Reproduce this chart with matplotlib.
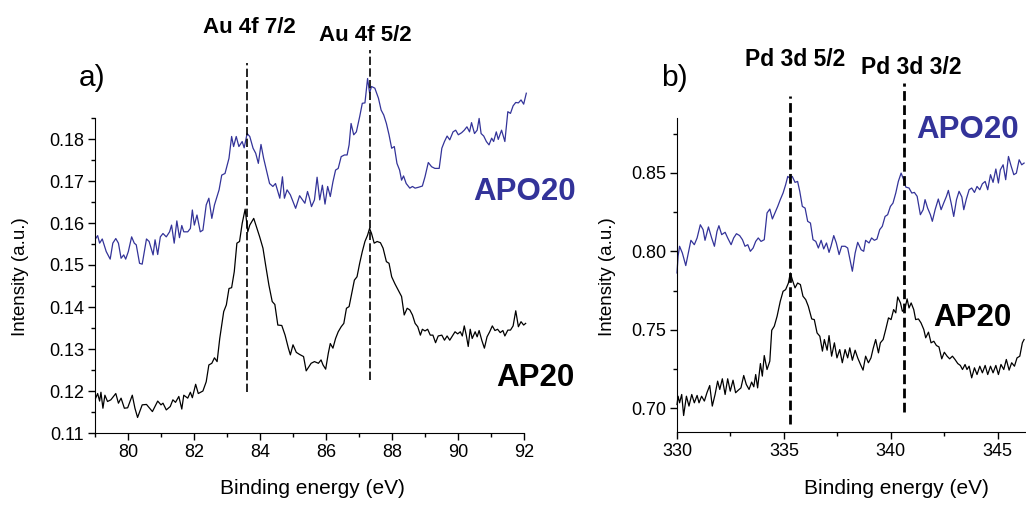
import numpy as np
import matplotlib
matplotlib.use("Agg")
import matplotlib.pyplot as plt
from matplotlib.ticker import MultipleLocator

plt.rcParams['font.family'] = ['Liberation Sans', 'DejaVu Sans']

BLUE = '#333399'

# Au 4f spectra: (binding energy eV, intensity a.u.)
au_apo20 = np.array([
    (79.02, 0.1563), (79.08, 0.1570), (79.14, 0.1552), (79.22, 0.1562), (79.34, 0.1532),
    (79.46, 0.1514), (79.54, 0.1552), (79.63, 0.1563), (79.71, 0.1552), (79.79, 0.1516),
    (79.87, 0.1524), (79.93, 0.1514), (80.01, 0.1532), (80.11, 0.1567), (80.19, 0.1552),
    (80.25, 0.1548), (80.35, 0.1504), (80.43, 0.1502), (80.56, 0.1562), (80.64, 0.1556),
    (80.76, 0.1524), (80.82, 0.1560), (80.90, 0.1525), (80.98, 0.1567), (81.06, 0.1575),
    (81.16, 0.1567), (81.26, 0.1579), (81.32, 0.1595), (81.40, 0.1552), (81.48, 0.1605),
    (81.56, 0.1565), (81.63, 0.1594), (81.69, 0.1579), (81.81, 0.1579), (81.89, 0.1587),
    (81.95, 0.1631), (82.01, 0.1595), (82.09, 0.1619), (82.19, 0.1579), (82.27, 0.1583),
    (82.37, 0.1643), (82.45, 0.1659), (82.54, 0.1611), (82.62, 0.1643), (82.76, 0.1679),
    (82.84, 0.1714), (82.94, 0.1718), (83.06, 0.1754), (83.14, 0.1806), (83.20, 0.1782),
    (83.28, 0.1806), (83.36, 0.1782), (83.46, 0.1794), (83.52, 0.1779), (83.61, 0.1813),
    (83.69, 0.1806), (83.79, 0.1778), (83.87, 0.1766), (83.95, 0.1742), (84.03, 0.1787),
    (84.11, 0.1754), (84.29, 0.1694), (84.39, 0.1687), (84.47, 0.1694), (84.60, 0.1659),
    (84.68, 0.1710), (84.74, 0.1659), (84.82, 0.1679), (84.92, 0.1667), (85.08, 0.1635),
    (85.20, 0.1665), (85.36, 0.1647), (85.44, 0.1675), (85.50, 0.1659), (85.56, 0.1639),
    (85.65, 0.1655), (85.73, 0.1709), (85.81, 0.1655), (85.89, 0.1690), (85.97, 0.1645),
    (86.05, 0.1687), (86.13, 0.1663), (86.21, 0.1698), (86.29, 0.1726), (86.37, 0.1730),
    (86.46, 0.1758), (86.56, 0.1762), (86.64, 0.1762), (86.70, 0.1786), (86.76, 0.1837),
    (86.84, 0.1810), (86.92, 0.1817), (87.02, 0.1853), (87.10, 0.1885), (87.18, 0.1886),
    (87.26, 0.1944), (87.32, 0.1910), (87.38, 0.1925), (87.48, 0.1921), (87.59, 0.1897),
    (87.67, 0.1869), (87.75, 0.1857), (87.83, 0.1837), (87.91, 0.1810), (87.99, 0.1778),
    (88.07, 0.1782), (88.15, 0.1742), (88.23, 0.1726), (88.29, 0.1702), (88.35, 0.1712),
    (88.43, 0.1694), (88.54, 0.1683), (88.62, 0.1687), (88.70, 0.1683), (88.80, 0.1685),
    (88.92, 0.1688), (89.00, 0.1710), (89.10, 0.1744), (89.20, 0.1734), (89.30, 0.1730),
    (89.43, 0.1730), (89.51, 0.1778), (89.59, 0.1794), (89.67, 0.1807), (89.75, 0.1798),
    (89.85, 0.1817), (89.93, 0.1821), (90.01, 0.1810), (90.11, 0.1815), (90.19, 0.1821),
    (90.27, 0.1829), (90.35, 0.1817), (90.41, 0.1839), (90.50, 0.1813), (90.58, 0.1821),
    (90.64, 0.1849), (90.70, 0.1813), (90.78, 0.1807), (90.86, 0.1794), (90.94, 0.1786),
    (91.02, 0.1802), (91.08, 0.1794), (91.16, 0.1817), (91.22, 0.1799), (91.32, 0.1821),
    (91.42, 0.1794), (91.51, 0.1865), (91.59, 0.1861), (91.67, 0.1879), (91.75, 0.1887),
    (91.83, 0.1886), (91.91, 0.1893), (91.99, 0.1883), (92.07, 0.1909),
])

au_ap20 = np.array([
    (79.02, 0.1183), (79.08, 0.1194), (79.14, 0.1176), (79.18, 0.1197), (79.24, 0.1159),
    (79.30, 0.1190), (79.38, 0.1175), (79.48, 0.1179), (79.63, 0.1194), (79.71, 0.1171),
    (79.79, 0.1183), (79.89, 0.1159), (79.99, 0.1160), (80.13, 0.1190), (80.21, 0.1159),
    (80.29, 0.1137), (80.43, 0.1167), (80.56, 0.1168), (80.74, 0.1151), (80.90, 0.1176),
    (81.00, 0.1167), (81.06, 0.1171), (81.16, 0.1155), (81.28, 0.1163), (81.36, 0.1179),
    (81.44, 0.1173), (81.54, 0.1187), (81.63, 0.1157), (81.69, 0.1190), (81.81, 0.1183),
    (81.89, 0.1197), (81.95, 0.1184), (82.05, 0.1216), (82.13, 0.1194), (82.27, 0.1200),
    (82.37, 0.1222), (82.45, 0.1262), (82.54, 0.1266), (82.62, 0.1279), (82.70, 0.1270),
    (82.78, 0.1325), (82.90, 0.1389), (82.98, 0.1405), (83.06, 0.1444), (83.14, 0.1446),
    (83.22, 0.1484), (83.30, 0.1552), (83.38, 0.1556), (83.46, 0.1599), (83.55, 0.1633),
    (83.63, 0.1579), (83.69, 0.1595), (83.81, 0.1611), (83.91, 0.1587), (83.99, 0.1567),
    (84.09, 0.1540), (84.17, 0.1500), (84.27, 0.1452), (84.37, 0.1413), (84.45, 0.1406),
    (84.54, 0.1357), (84.66, 0.1356), (84.76, 0.1333), (84.86, 0.1302), (84.92, 0.1286),
    (85.00, 0.1310), (85.10, 0.1292), (85.20, 0.1287), (85.32, 0.1282), (85.40, 0.1248),
    (85.55, 0.1266), (85.65, 0.1270), (85.77, 0.1266), (85.85, 0.1274), (85.91, 0.1262),
    (85.99, 0.1252), (86.07, 0.1290), (86.13, 0.1313), (86.21, 0.1302), (86.29, 0.1325),
    (86.37, 0.1341), (86.46, 0.1353), (86.54, 0.1361), (86.62, 0.1397), (86.70, 0.1401),
    (86.78, 0.1433), (86.86, 0.1464), (86.94, 0.1472), (87.02, 0.1504), (87.10, 0.1532),
    (87.18, 0.1556), (87.26, 0.1571), (87.32, 0.1587), (87.38, 0.1575), (87.46, 0.1552),
    (87.55, 0.1556), (87.65, 0.1553), (87.73, 0.1540), (87.83, 0.1508), (87.91, 0.1504),
    (87.99, 0.1472), (88.09, 0.1455), (88.19, 0.1440), (88.29, 0.1425), (88.37, 0.1381),
    (88.46, 0.1397), (88.54, 0.1393), (88.62, 0.1381), (88.70, 0.1361), (88.78, 0.1353),
    (88.86, 0.1333), (88.92, 0.1347), (89.00, 0.1343), (89.08, 0.1347), (89.16, 0.1333),
    (89.24, 0.1333), (89.32, 0.1315), (89.40, 0.1331), (89.51, 0.1333), (89.59, 0.1321),
    (89.67, 0.1331), (89.75, 0.1321), (89.83, 0.1331), (89.91, 0.1341), (89.99, 0.1336),
    (90.07, 0.1341), (90.13, 0.1331), (90.19, 0.1355), (90.25, 0.1333), (90.31, 0.1306),
    (90.37, 0.1347), (90.43, 0.1325), (90.52, 0.1341), (90.58, 0.1329), (90.64, 0.1344),
    (90.72, 0.1321), (90.80, 0.1302), (90.88, 0.1329), (90.96, 0.1341), (91.04, 0.1355),
    (91.12, 0.1344), (91.20, 0.1347), (91.28, 0.1339), (91.36, 0.1344), (91.42, 0.1331),
    (91.51, 0.1345), (91.59, 0.1345), (91.67, 0.1355), (91.75, 0.1391), (91.83, 0.1353),
    (91.91, 0.1365), (91.99, 0.1357), (92.05, 0.1361),
])

# Pd 3d spectra
pd_apo20 = np.array([
    (330.00, 0.7863), (330.05, 0.7969), (330.12, 0.8033), (330.25, 0.7990), (330.41, 0.7910),
    (330.53, 0.7990), (330.65, 0.8071), (330.81, 0.8043), (330.94, 0.8086), (331.09, 0.8170),
    (331.22, 0.8139), (331.31, 0.8071), (331.47, 0.8156), (331.62, 0.8086), (331.75, 0.8033),
    (331.87, 0.8128), (331.96, 0.8164), (332.09, 0.8107), (332.25, 0.8122), (332.37, 0.8086),
    (332.53, 0.8043), (332.65, 0.8086), (332.78, 0.8113), (332.93, 0.8101), (333.06, 0.8075),
    (333.18, 0.8033), (333.31, 0.8043), (333.43, 0.8001), (333.56, 0.8022), (333.68, 0.8064),
    (333.80, 0.8086), (333.93, 0.8064), (334.08, 0.8075), (334.21, 0.8245), (334.34, 0.8270),
    (334.46, 0.8207), (334.58, 0.8245), (334.71, 0.8287), (334.83, 0.8330), (334.96, 0.8372),
    (335.08, 0.8425), (335.18, 0.8478), (335.27, 0.8467), (335.39, 0.8478), (335.52, 0.8440),
    (335.64, 0.8446), (335.74, 0.8383), (335.86, 0.8287), (335.99, 0.8276), (336.11, 0.8192),
    (336.24, 0.8181), (336.36, 0.8075), (336.49, 0.8064), (336.61, 0.8022), (336.74, 0.8071),
    (336.86, 0.8016), (336.99, 0.8054), (337.11, 0.7994), (337.20, 0.8033), (337.33, 0.8101),
    (337.45, 0.8054), (337.58, 0.7980), (337.70, 0.8033), (337.86, 0.8033), (337.98, 0.8022),
    (338.20, 0.7874), (338.33, 0.7990), (338.45, 0.8058), (338.61, 0.8011), (338.73, 0.8001),
    (338.82, 0.8071), (338.98, 0.8054), (339.10, 0.8086), (339.23, 0.8071), (339.35, 0.8079),
    (339.48, 0.8139), (339.60, 0.8160), (339.73, 0.8223), (339.85, 0.8234), (339.98, 0.8287),
    (340.10, 0.8308), (340.23, 0.8372), (340.35, 0.8446), (340.48, 0.8499), (340.60, 0.8457),
    (340.70, 0.8410), (340.85, 0.8404), (340.98, 0.8372), (341.10, 0.8376), (341.23, 0.8351),
    (341.38, 0.8234), (341.51, 0.8266), (341.60, 0.8330), (341.72, 0.8276), (341.85, 0.8234),
    (341.94, 0.8192), (342.07, 0.8266), (342.22, 0.8334), (342.35, 0.8266), (342.47, 0.8308),
    (342.60, 0.8351), (342.69, 0.8389), (342.82, 0.8308), (342.94, 0.8223), (343.07, 0.8330),
    (343.19, 0.8383), (343.32, 0.8347), (343.41, 0.8266), (343.53, 0.8334), (343.66, 0.8393),
    (343.78, 0.8404), (343.91, 0.8376), (344.03, 0.8414), (344.16, 0.8393), (344.28, 0.8431),
    (344.41, 0.8446), (344.53, 0.8393), (344.66, 0.8489), (344.78, 0.8440), (344.91, 0.8525),
    (345.03, 0.8436), (345.12, 0.8520), (345.25, 0.8552), (345.37, 0.8457), (345.50, 0.8605),
    (345.62, 0.8546), (345.75, 0.8489), (345.87, 0.8499), (346.00, 0.8584), (346.12, 0.8552),
    (346.23, 0.8563),
])

pd_ap20 = np.array([
    (330.00, 0.7025), (330.05, 0.7078), (330.12, 0.7036), (330.22, 0.7089), (330.31, 0.6955),
    (330.44, 0.7078), (330.56, 0.7015), (330.69, 0.7089), (330.81, 0.7036), (330.94, 0.7083),
    (331.03, 0.7036), (331.15, 0.7078), (331.28, 0.7047), (331.40, 0.7100), (331.53, 0.7146),
    (331.65, 0.7015), (331.78, 0.7089), (331.90, 0.7174), (332.00, 0.7121), (332.12, 0.7189),
    (332.25, 0.7089), (332.37, 0.7189), (332.49, 0.7110), (332.62, 0.7180), (332.74, 0.7100),
    (332.87, 0.7117), (332.99, 0.7131), (333.12, 0.7210), (333.24, 0.7153), (333.37, 0.7121),
    (333.49, 0.7168), (333.59, 0.7138), (333.68, 0.7216), (333.77, 0.7131), (333.90, 0.7286),
    (333.99, 0.7206), (334.08, 0.7337), (334.21, 0.7248), (334.34, 0.7301), (334.43, 0.7498),
    (334.55, 0.7524), (334.68, 0.7587), (334.83, 0.7683), (334.96, 0.7746), (335.08, 0.7757),
    (335.21, 0.7799), (335.30, 0.7863), (335.39, 0.7821), (335.52, 0.7768), (335.64, 0.7799),
    (335.77, 0.7789), (335.89, 0.7715), (336.02, 0.7693), (336.14, 0.7651), (336.30, 0.7570),
    (336.42, 0.7566), (336.55, 0.7481), (336.68, 0.7460), (336.80, 0.7365), (336.89, 0.7439),
    (337.02, 0.7371), (337.11, 0.7464), (337.23, 0.7333), (337.36, 0.7418), (337.48, 0.7322),
    (337.61, 0.7375), (337.73, 0.7291), (337.86, 0.7375), (337.98, 0.7322), (338.08, 0.7386),
    (338.20, 0.7307), (338.33, 0.7371), (338.45, 0.7322), (338.58, 0.7280), (338.70, 0.7244),
    (338.82, 0.7333), (338.95, 0.7291), (339.07, 0.7322), (339.17, 0.7380), (339.29, 0.7439),
    (339.42, 0.7354), (339.51, 0.7418), (339.64, 0.7439), (339.76, 0.7503), (339.89, 0.7577),
    (340.01, 0.7566), (340.13, 0.7630), (340.23, 0.7609), (340.32, 0.7710), (340.45, 0.7672),
    (340.54, 0.7619), (340.66, 0.7634), (340.76, 0.7698), (340.85, 0.7640), (340.95, 0.7672),
    (341.07, 0.7630), (341.16, 0.7566), (341.29, 0.7570), (341.41, 0.7545), (341.54, 0.7503),
    (341.63, 0.7450), (341.76, 0.7486), (341.88, 0.7418), (342.01, 0.7428), (342.13, 0.7401),
    (342.25, 0.7392), (342.38, 0.7316), (342.50, 0.7358), (342.63, 0.7333), (342.75, 0.7316),
    (342.88, 0.7333), (343.00, 0.7312), (343.13, 0.7286), (343.25, 0.7274), (343.35, 0.7248),
    (343.47, 0.7280), (343.56, 0.7248), (343.66, 0.7269), (343.78, 0.7195), (343.91, 0.7259),
    (344.03, 0.7216), (344.16, 0.7269), (344.28, 0.7227), (344.41, 0.7274), (344.53, 0.7216),
    (344.66, 0.7269), (344.78, 0.7227), (344.91, 0.7274), (345.03, 0.7216), (345.15, 0.7280),
    (345.28, 0.7248), (345.40, 0.7312), (345.53, 0.7244), (345.65, 0.7291), (345.78, 0.7269),
    (345.90, 0.7322), (346.03, 0.7333), (346.15, 0.7418), (346.23, 0.7439),
])

# peak positions marked with dashed lines
au_peaks = [83.6, 87.33]
au_names = ['Au 4f 7/2', 'Au 4f 5/2']
pd_peaks = [335.28, 340.62]
pd_names = ['Pd 3d 5/2', 'Pd 3d 3/2']

W, H = 1026, 505
fig = plt.figure(figsize=(W / 100, H / 100), dpi=100)


def fpos(x, y):
    """pixel position -> figure fraction"""
    return x / W, 1 - y / H


ax_a = fig.add_axes([95 / W, 1 - 433 / H, (524 - 95) / W, (433 - 118) / H])
ax_b = fig.add_axes([677 / W, 1 - 432 / H, (1026 - 677) / W, (432 - 118) / H])

for ax in (ax_a, ax_b):
    ax.spines['top'].set_visible(False)
    ax.spines['right'].set_visible(False)
    ax.tick_params(which='major', direction='out', length=5, width=1,
                   labelsize=13, pad=3)
    ax.tick_params(which='minor', direction='out', length=3, width=1)

ax_a.set_xlim(79, 92)
ax_a.set_ylim(0.11, 0.185)
ax_a.xaxis.set_major_locator(MultipleLocator(2))
ax_a.xaxis.set_minor_locator(MultipleLocator(1))
ax_a.yaxis.set_major_locator(MultipleLocator(0.01))
ax_a.yaxis.set_minor_locator(MultipleLocator(0.005))

ax_b.set_xlim(330, 346.32)
ax_b.set_ylim(0.685, 0.885)
ax_b.xaxis.set_major_locator(MultipleLocator(5))
ax_b.xaxis.set_minor_locator(MultipleLocator(2.5))
ax_b.yaxis.set_major_locator(MultipleLocator(0.05))
ax_b.yaxis.set_minor_locator(MultipleLocator(0.025))

# spectra
ax_a.plot(au_apo20[:, 0], au_apo20[:, 1], color=BLUE, lw=0.9, clip_on=False)
ax_a.plot(au_ap20[:, 0], au_ap20[:, 1], color='black', lw=0.9, clip_on=False)
ax_b.plot(pd_apo20[:, 0], pd_apo20[:, 1], color=BLUE, lw=0.9, clip_on=False)
ax_b.plot(pd_ap20[:, 0], pd_ap20[:, 1], color='black', lw=0.9, clip_on=False)

# dashed peak markers
for x, (y0, y1) in zip(au_peaks, [(0.1198, 0.198), (0.1226, 0.2012)]):
    ax_a.plot([x, x], [y0, y1], color='black', lw=1.2, ls=(0, (5, 2)),
              clip_on=False)
for x, (y0, y1) in zip(pd_peaks, [(0.6898, 0.8991), (0.6975, 0.9074)]):
    ax_b.plot([x, x], [y0, y1], color='black', lw=2, ls=(0, (3.5, 1.6)),
              clip_on=False)

# peak names
for name, (cx, cy) in zip(au_names, [(249.5, 27.5), (365.5, 35)]):
    fig.text(*fpos(cx, cy), name, ha='center', va='center', fontsize=16,
             fontweight='bold')
for name, (cx, cy) in zip(pd_names, [(795, 59), (911.5, 67)]):
    fig.text(*fpos(cx, cy), name, ha='center', va='center', fontsize=16.5,
             fontweight='bold')

# panel letters and sample names
fig.text(*fpos(92, 78), 'a)', ha='center', va='center', fontsize=21.5)
fig.text(*fpos(674, 78), 'b)', ha='center', va='center', fontsize=21.5)
fig.text(*fpos(525, 192.5), 'APO20', ha='center', va='center', fontsize=22.5,
         fontweight='bold', color=BLUE)
fig.text(*fpos(535, 378), 'AP20', ha='center', va='center', fontsize=22.5,
         fontweight='bold', color='black')
fig.text(*fpos(968, 130), 'APO20', ha='center', va='center', fontsize=22.5,
         fontweight='bold', color=BLUE)
fig.text(*fpos(972, 318), 'AP20', ha='center', va='center', fontsize=22.5,
         fontweight='bold', color='black')

# axis titles
for cx in (312, 896):
    fig.text(*fpos(cx, 488), 'Binding energy (eV)', ha='center', va='center',
             fontsize=15)
for cx in (21, 607):
    fig.text(*fpos(cx, 277), 'Intensity (a.u.)', ha='center', va='center',
             fontsize=13.5, rotation=90)

fig.savefig('out.png', dpi=100)
